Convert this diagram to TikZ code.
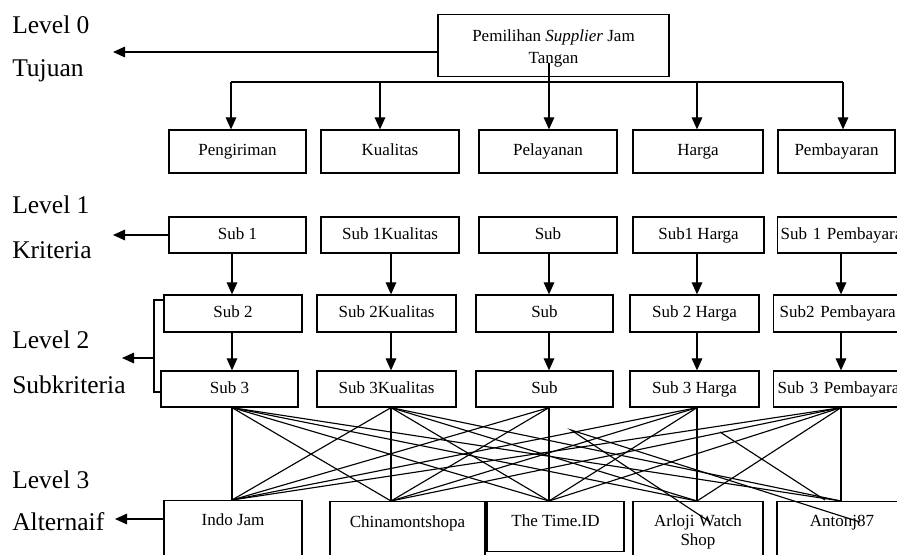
\documentclass[tikz,border=0pt]{standalone}
\usepackage{fontspec}
\setmainfont{Liberation Serif}
\usetikzlibrary{arrows.meta}
\newlength\pxu
\setlength\pxu{0.706pt}
\begin{document}
\begin{tikzpicture}[x=0.706pt,y=-0.706pt,
	box/.style={draw,line width=0.9pt,inner sep=0pt,align=center,font=\fontsize{12}{15.5}\selectfont},
	one/.style={text height=8.3pt,text depth=2.6pt},
	lbl/.style={anchor=base west,inner sep=0pt,font=\fontsize{18}{20}\selectfont},
	arr/.style={line width=0.9pt,-{Triangle[length=8.5pt,width=7.5pt]}},
	edge/.style={line width=0.8pt}]
	\useasboundingbox (0,0) rectangle (897,554);
	\clip (0,0) rectangle (897,554);
	\node[lbl] (L0) at (12,33) {Level 0};
	\node[lbl] (G0) at (12,76) {Tujuan};
	\node[lbl] (L1) at (12,213) {Level 1};
	\node[lbl] (G1) at (12,258) {Kriteria};
	\node[lbl] (L2) at (12,348) {Level 2};
	\node[lbl] (G2) at (12,393) {Subkriteria};
	\node[lbl] (L3) at (12,488) {Level 3};
	\node[lbl] (G3) at (12,530) {Alternaif};
	\node[box,anchor=north,minimum width=231\pxu,text height=49\pxu,text depth=13\pxu] (T) at (553.5,14) {Pemilihan \textit{Supplier} Jam\\Tangan};
	\node[box,one,minimum width=137\pxu,minimum height=43\pxu] (K1) at (237.5,151.5) {Pengiriman};
	\node[box,one,minimum width=138\pxu,minimum height=43\pxu] (K2) at (390,151.5) {Kualitas};
	\node[box,one,minimum width=138\pxu,minimum height=43\pxu] (K3) at (548,151.5) {Pelayanan};
	\node[box,one,minimum width=130\pxu,minimum height=43\pxu] (K4) at (698,151.5) {Harga};
	\node[box,one,minimum width=117\pxu,minimum height=43\pxu] (K5) at (836.5,151.5) {Pembayaran};
	\node[box,one,minimum width=137\pxu,minimum height=36\pxu] (S11) at (237.5,235) {Sub 1};
	\node[box,one,minimum width=138\pxu,minimum height=36\pxu] (S12) at (390,235) {Sub 1Kualitas};
	\node[box,one,minimum width=138\pxu,minimum height=36\pxu] (S13) at (548,235) {Sub};
	\node[box,one,minimum width=131\pxu,minimum height=36\pxu] (S14) at (698.5,235) {Sub1 Harga};
	\node[box,one,anchor=west,minimum height=36\pxu,text width=127\pxu,align=left,inner xsep=3\pxu] (S15) at (777,235) {Sub 1 Pembayara};
	\node[box,one,minimum width=138\pxu,minimum height=37\pxu] (S21) at (233,313.5) {Sub 2};
	\node[box,one,minimum width=139\pxu,minimum height=37\pxu] (S22) at (386.5,313.5) {Sub 2Kualitas};
	\node[box,one,minimum width=137\pxu,minimum height=37\pxu] (S23) at (544.5,313.5) {Sub};
	\node[box,one,minimum width=129\pxu,minimum height=37\pxu] (S24) at (694.5,313.5) {Sub 2 Harga};
	\node[box,one,anchor=west,minimum height=37\pxu,text width=127\pxu,align=left,inner xsep=6\pxu] (S25) at (773,313.5) {Sub2 Pembayara};
	\node[box,one,minimum width=137\pxu,minimum height=36\pxu] (S31) at (229.5,389) {Sub 3};
	\node[box,one,minimum width=139\pxu,minimum height=36\pxu] (S32) at (386.5,389) {Sub 3Kualitas};
	\node[box,one,minimum width=137\pxu,minimum height=36\pxu] (S33) at (544.5,389) {Sub};
	\node[box,one,minimum width=129\pxu,minimum height=36\pxu] (S34) at (694.5,389) {Sub 3 Harga};
	\node[box,one,anchor=west,minimum height=36\pxu,text width=127\pxu,align=left,inner xsep=4\pxu] (S35) at (773,389) {Sub 3 Pembayara};
	\node[box,anchor=north,minimum width=138\pxu,text height=25\pxu,text depth=80\pxu] (A1) at (233,500) {Indo Jam};
	\node[box,anchor=north,minimum width=155\pxu,text height=26\pxu,text depth=80\pxu] (A2) at (407.5,501) {Chinamontshopa};
	\node[box,anchor=north,minimum width=137\pxu,text height=25\pxu,text depth=25\pxu] (A3) at (555.5,501) {The Time.ID};
	\node[box,anchor=north,minimum width=130\pxu,text height=44\pxu,text depth=80\pxu,font=\fontsize{12}{13.4}\selectfont] (A4) at (698,501) {Arloji Watch\\Shop};
	\node[box,anchor=north,minimum width=130\pxu,text height=25\pxu,text depth=80\pxu] (A5) at (842,501) {Antonj87};
	\coordinate (c1) at (232,0);
	\coordinate (c2) at (391,0);
	\coordinate (c3) at (549,0);
	\coordinate (c4) at (697,0);
	\coordinate (c5) at (841,0);
	\coordinate (k1) at (231,82);
	\coordinate (k2) at (380,82);
	\coordinate (k3) at (549,63);
	\coordinate (k4) at (697,82);
	\coordinate (k5) at (843,82);
	\draw[edge] (k1) -- (k5);
	\foreach \i in {1,2,4,5}
		\draw[arr] (k\i) -- (K\i.north -| k\i);
	\draw[arr] (k3) -- (K3.north -| k3);
	\foreach \i in {1,...,5} {
		\draw[arr] (S1\i.south -| c\i) -- (S2\i.north -| c\i);
		\draw[arr] (S2\i.south -| c\i) -- (S3\i.north -| c\i);
	}
	\foreach \i/\js in {1/{1,2,3,4,5},2/{1,2,3,4,5},3/{1,2,3},4/{1,2,3,4},5/{1,2,3,4,5}}
		\foreach \j in \js
			\draw[edge] (S3\i.south -| c\i) -- (A\j.north -| c\j);
	\coordinate (d1) at (571,430);
	\coordinate (d2) at (720,432);
	\coordinate (e1) at (710,522);
	\coordinate (e2) at (860,522);
	\coordinate (e3) at (825,500);
	\draw[edge] (e1) -- (d1) -- (e2);
	\draw[edge] (d2) -- (e3);
	\coordinate (p0) at (113,52);
	\coordinate (p1) at (113,235);
	\coordinate (p2) at (122,358);
	\coordinate (p3) at (115,519);
	\coordinate (b1) at (154,300);
	\coordinate (b2) at (154,392);
	\coordinate (b3) at (154,358);
	\draw[arr] (T.west |- p0) -- (p0);
	\draw[arr] (S11.west) -- (p1);
	\draw[edge] (S21.west |- b1) -- (b1) -- (b2) -- (S31.west |- b2);
	\draw[arr] (b3) -- (p2);
	\draw[arr] (A1.west |- p3) -- (p3);
\end{tikzpicture}
\end{document}
